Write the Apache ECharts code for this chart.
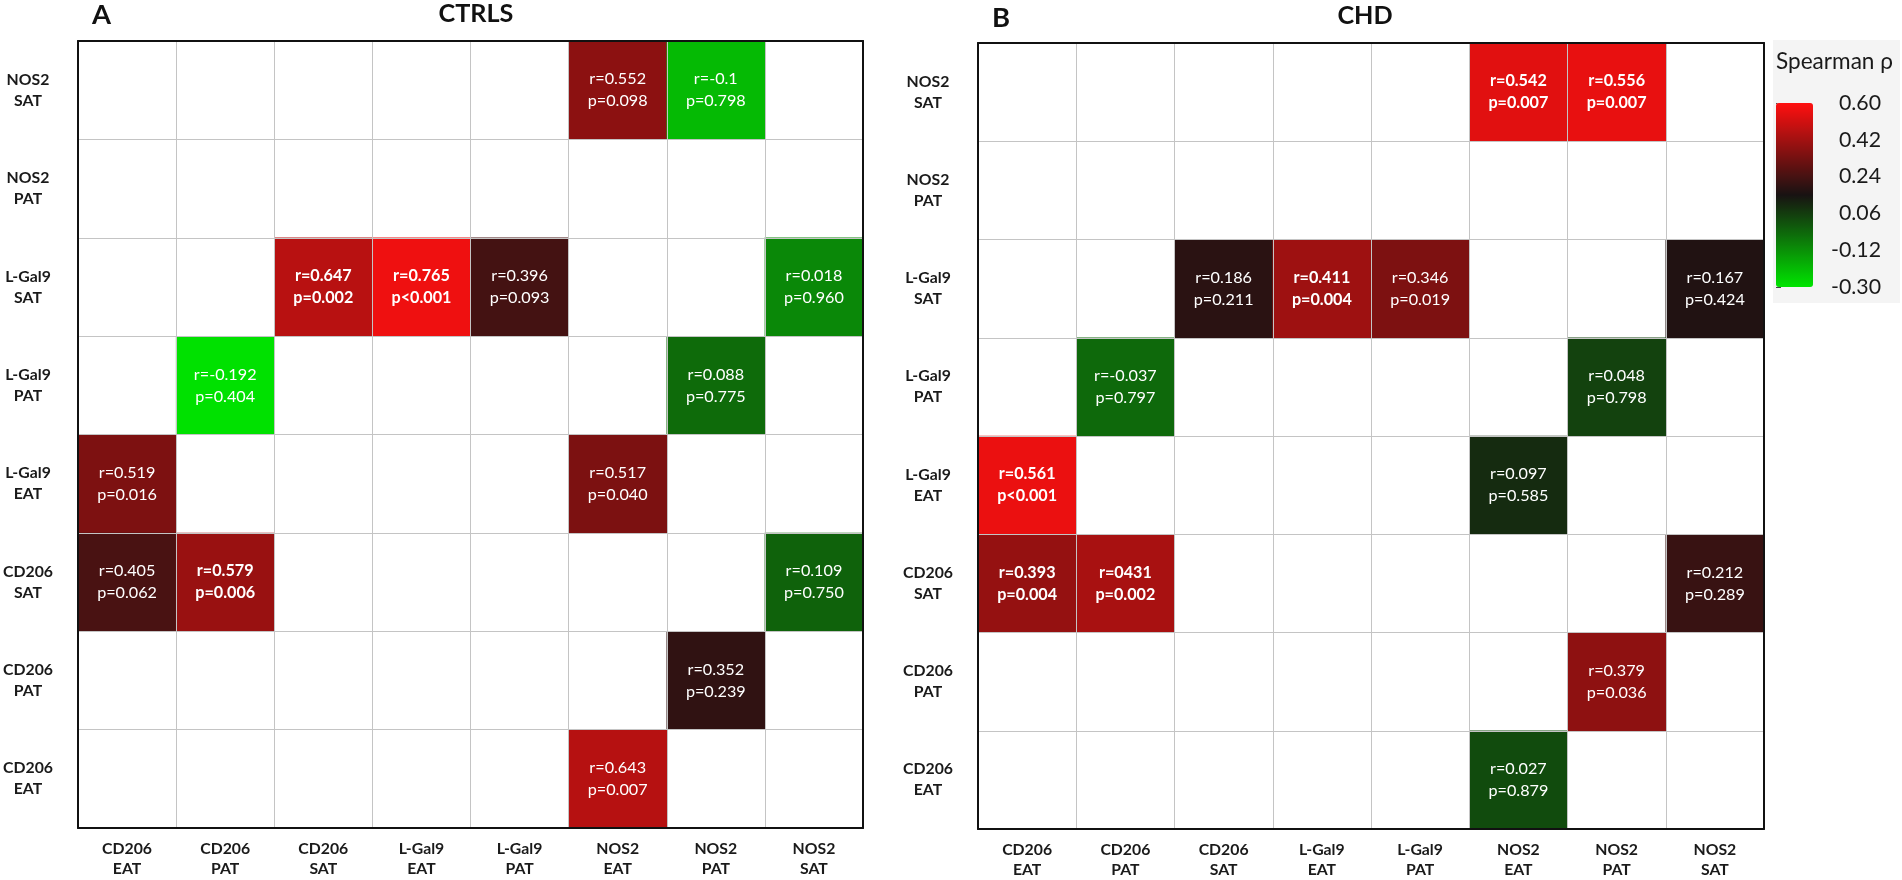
<!DOCTYPE html>
<html>
<head>
<meta charset="utf-8">
<script src="https://cdn.jsdelivr.net/npm/echarts@6/dist/echarts.min.js"></script>
<style>
html,body{margin:0;padding:0;background:#fff;}
#chart{width:1902px;height:880px;}
</style>
</head>
<body>
<div id="chart"></div>
<script>
// Column categories (x axis, left to right)
const cols = ['CD206\nEAT','CD206\nPAT','CD206\nSAT','L-Gal9\nEAT','L-Gal9\nPAT','NOS2\nEAT','NOS2\nPAT','NOS2\nSAT'];
// Row categories (y axis, top to bottom)
const rows = ['NOS2\nSAT','NOS2\nPAT','L-Gal9\nSAT','L-Gal9\nPAT','L-Gal9\nEAT','CD206\nSAT','CD206\nPAT','CD206\nEAT'];
// Colour bar tick labels (bottom to top)
const legendTicks = ['-0.30','-0.12','0.06','0.24','0.42','0.60'];

// [colIndex, rowIndex, r, r label, p label, significant]
const ctrlCells = [
  [5,0,0.552,'r=0.552','p=0.098',0],
  [6,0,-0.1,'r=-0.1','p=0.798',0],
  [2,2,0.647,'r=0.647','p=0.002',1],
  [3,2,0.765,'r=0.765','p<0.001',1],
  [4,2,0.396,'r=0.396','p=0.093',0],
  [7,2,0.018,'r=0.018','p=0.960',0],
  [1,3,-0.192,'r=-0.192','p=0.404',0],
  [6,3,0.088,'r=0.088','p=0.775',0],
  [0,4,0.519,'r=0.519','p=0.016',0],
  [5,4,0.517,'r=0.517','p=0.040',0],
  [0,5,0.405,'r=0.405','p=0.062',0],
  [1,5,0.579,'r=0.579','p=0.006',1],
  [7,5,0.109,'r=0.109','p=0.750',0],
  [6,6,0.352,'r=0.352','p=0.239',0],
  [5,7,0.643,'r=0.643','p=0.007',0]
];
const chdCells = [
  [5,0,0.542,'r=0.542','p=0.007',1],
  [6,0,0.556,'r=0.556','p=0.007',1],
  [2,2,0.186,'r=0.186','p=0.211',0],
  [3,2,0.411,'r=0.411','p=0.004',1],
  [4,2,0.346,'r=0.346','p=0.019',0],
  [7,2,0.167,'r=0.167','p=0.424',0],
  [1,3,-0.037,'r=-0.037','p=0.797',0],
  [6,3,0.048,'r=0.048','p=0.798',0],
  [0,4,0.561,'r=0.561','p<0.001',1],
  [5,4,0.097,'r=0.097','p=0.585',0],
  [0,5,0.393,'r=0.393','p=0.004',1],
  [1,5,0.431,'r=0431','p=0.002',1],
  [7,5,0.212,'r=0.212','p=0.289',0],
  [6,6,0.379,'r=0.379','p=0.036',0],
  [5,7,0.027,'r=0.027','p=0.879',0]
];

const FONT = 'Lato';
const colorStops = ['#00e400','#181212','#ff1010'];

// pick font sizes so that sample strings match the reference widths
const mctx = document.createElement('canvas').getContext('2d');
function fitSize(text, weight, targetWidth){
  mctx.font = weight + ' 100px ' + FONT;
  const w = mctx.measureText(text).width || 100;
  return Math.round(100 * targetWidth / w * 10) / 10;
}
const fsTitle = fitSize('CTRLS', 'bold', 75);
const fsLetter = fitSize('A', 'bold', 19);
const fsAxis = fitSize('CD206', 'bold', 50);
const fsCell = fitSize('p=0.098', 'normal', 60);
const fsLegTitle = fitSize('Spearman ρ', 'normal', 117);
const fsLegTick = fitSize('0.60', 'normal', 42);

function toItems(cells){
  return cells.map(c => ({
    value:[c[0], c[1], c[2]],
    rl:c[3], pl:c[4],
    label:{fontWeight: c[5] ? 'bold' : 'normal'}
  }));
}

function axesFor(gi){
  const catLabel = {color:'#1a1a1a', fontFamily:FONT, fontWeight:'bold', fontSize:fsAxis, lineHeight:20};
  return {
    x:[
      {type:'category', gridIndex:gi, data:cols, position:'bottom', z:5,
       axisLine:{show:true, lineStyle:{color:'#111', width:2}},
       axisTick:{show:false},
       axisLabel:Object.assign({margin:11, interval:0}, catLabel),
       splitLine:{show:true, interval:0, lineStyle:{color:'#c4c4c4', width:1}}},
      {type:'category', gridIndex:gi, data:cols, position:'top', z:5,
       axisLine:{show:true, lineStyle:{color:'#111', width:2}},
       axisTick:{show:false}, axisLabel:{show:false}, splitLine:{show:false}}
    ],
    y:[
      {type:'category', gridIndex:gi, data:rows, inverse:true, position:'left', z:5,
       axisLine:{show:true, lineStyle:{color:'#111', width:2}},
       axisTick:{show:false},
       axisLabel:Object.assign({margin:50, align:'center', interval:0}, catLabel, {lineHeight:21}),
       splitLine:{show:true, interval:0, lineStyle:{color:'#c4c4c4', width:1}}},
      {type:'category', gridIndex:gi, data:rows, inverse:true, position:'right', z:5,
       axisLine:{show:true, lineStyle:{color:'#111', width:2}},
       axisTick:{show:false}, axisLabel:{show:false}, splitLine:{show:false}}
    ]
  };
}

const aA = axesFor(0), aB = axesFor(1);

const labelCfg = {
  show:true, color:'#fff', fontFamily:FONT, fontSize:fsCell, lineHeight:22,
  formatter: p => p.data.rl + '\n' + p.data.pl
};

const option = {
  backgroundColor:'#fff',
  animation:false,
  title:[
    {text:'A', left:92, top:15, padding:0, textVerticalAlign:'middle', textStyle:{fontFamily:FONT, fontWeight:'bold', fontSize:fsLetter, color:'#111', lineHeight:fsLetter}},
    {text:'CTRLS', left:476, top:14, padding:0, textAlign:'center', textVerticalAlign:'middle', textStyle:{fontFamily:FONT, fontWeight:'bold', fontSize:fsTitle, color:'#111', lineHeight:fsTitle}},
    {text:'B', left:992, top:18, padding:0, textVerticalAlign:'middle', textStyle:{fontFamily:FONT, fontWeight:'bold', fontSize:fsLetter, color:'#111', lineHeight:fsLetter}},
    {text:'CHD', left:1365, top:16, padding:0, textAlign:'center', textVerticalAlign:'middle', textStyle:{fontFamily:FONT, fontWeight:'bold', fontSize:fsTitle, color:'#111', lineHeight:fsTitle}},
    {text:'Spearman ρ', left:1776, top:62, padding:0, textVerticalAlign:'middle', textStyle:{fontFamily:FONT, fontWeight:'normal', fontSize:fsLegTitle, color:'#1a1a1a', lineHeight:fsLegTitle}}
  ],
  graphic:[
    {type:'rect', z:-10, shape:{x:1773, y:40, width:127, height:263}, style:{fill:'#f4f4f4'}}
  ],
  grid:[
    {left:78, top:41, width:785, height:787},
    {left:978, top:43, width:786, height:787},
    {left:1776, top:103, width:37, height:184}
  ],
  xAxis:[].concat(aA.x, aB.x, [{type:'value', gridIndex:2, min:0, max:1, show:false}]),
  yAxis:[].concat(aA.y, aB.y, [{
    type:'category', gridIndex:2, data:legendTicks, boundaryGap:false, position:'right',
    axisLine:{show:false},
    axisTick:{show:true, length:5, inside:false, lineStyle:{color:'#444', width:1}},
    axisLabel:{margin:68, align:'right', fontFamily:FONT, fontSize:fsLegTick, color:'#1a1a1a'},
    splitLine:{show:false}
  }]),
  visualMap:[
    {type:'continuous', seriesIndex:0, min:-0.2, max:0.8, show:false, inRange:{color:colorStops}},
    {type:'continuous', seriesIndex:1, min:-0.3, max:0.6, show:true, calculable:false,
     orient:'vertical', left:1776, top:103, itemWidth:37, itemHeight:184, padding:0,
     text:null, showLabel:false, inRange:{color:colorStops}}
  ],
  series:[
    {type:'heatmap', xAxisIndex:0, yAxisIndex:0, data:toItems(ctrlCells), label:labelCfg,
     itemStyle:{borderWidth:0}, emphasis:{disabled:true}},
    {type:'heatmap', xAxisIndex:2, yAxisIndex:2, data:toItems(chdCells), label:labelCfg,
     itemStyle:{borderWidth:0}, emphasis:{disabled:true}}
  ]
};

const chart = echarts.init(document.getElementById('chart'));
chart.setOption(option);
</script>
</body>
</html>
